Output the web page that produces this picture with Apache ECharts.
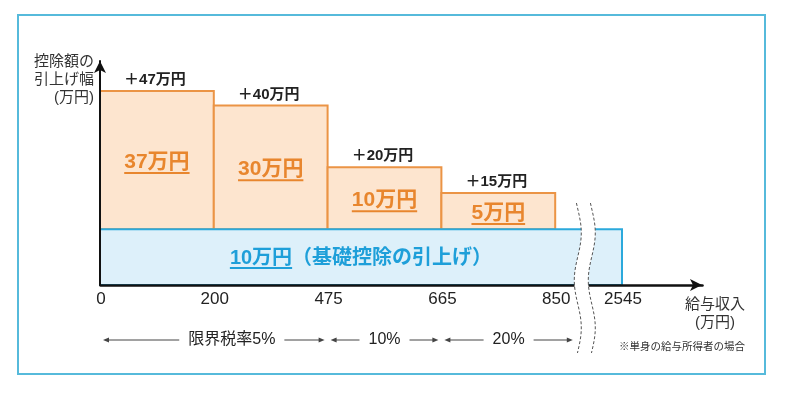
<!DOCTYPE html>
<html><head><meta charset="utf-8">
<script src="https://cdn.jsdelivr.net/npm/echarts@6/dist/echarts.min.js"></script>
<style>html,body{margin:0;padding:0;background:#fff}#c{width:800px;height:395px}</style>
</head><body><div id="c"></div>
<script>
// ---- data ----
const incomeTicks = ['0', '200', '475', '665', '850', '2545'];   // 給与収入 (万円)
const baseRaise = 10;                                             // 基礎控除の引上げ (万円)
const extraRaise = [37, 30, 10, 5];                                // 上乗せ (万円)
const totalRaise = [47, 40, 20, 15];                               // 控除額の引上げ幅 (万円)
const baseLabel = '（基礎控除の引上げ）';
const rateLabels = ['限界税率5%', '10%', '20%'];
const rateFrom = ['0', '475', '665'];
const rateTo = ['475', '665', '2545'];
const yAxisName = '控除額の\n引上げ幅\n(万円)';
const xAxisName = '給与収入\n(万円)';
const footnote = '※単身の給与所得者の場合';

// ---- axis configuration ----
const Y_MIN = 5.352, Y_MAX = 65.8;          // log scale extent
const X_MAX = 5.703;
const BREAK_START = 4.26, BREAK_END = 4.673; // axis break between 850 and 2545
const FONT = '"Liberation Sans", "Noto Sans CJK JP", sans-serif';
const ORANGE = '#E8862E', ORANGE_LINE = '#EB9445', ORANGE_FILL = '#FDE5CF';
const CYAN = '#1E9FD9', CYAN_LINE = '#2BA9DC', CYAN_FILL = '#DDF0FA';

const idx = t => incomeTicks.indexOf(t);
const mctx = document.createElement('canvas').getContext('2d');
function tw(text, size, weight) { mctx.font = (weight || 'normal') + ' ' + size + 'px ' + FONT; return mctx.measureText(text).width; }
function txt(x, y, text, size, weight, fill, align, valign) {
  return { type: 'text', x: x, y: y, style: { text: text, fill: fill, fontSize: size, fontWeight: weight, fontFamily: FONT,
    align: align || 'center', textAlign: align || 'center', verticalAlign: valign || 'middle', textVerticalAlign: valign || 'middle' } };
}

const chart = echarts.init(document.getElementById('c'), null, { renderer: 'canvas' });

const raiseData = extraRaise.map((e, i) => [i, i + 1, baseRaise, baseRaise + e]);
const baseData = [[idx('0'), idx('2545'), Y_MIN, baseRaise]];
const rateData = rateLabels.map((l, i) => [idx(rateFrom[i]), Math.min(idx(rateTo[i]), BREAK_START), Y_MIN]);
const tickData = incomeTicks.map((t, i) => [i, Y_MIN]);

chart.setOption({
  backgroundColor: '#fff',
  animation: false,
  grid: { left: 100, right: 98, top: 61, bottom: 110, containLabel: false, outerBoundsMode: 'none' },
  xAxis: {
    type: 'value', min: 0, max: X_MAX, interval: 1, z: 3,
    breaks: [{ start: BREAK_START, end: BREAK_END, gap: 0 }],
    breakArea: { show: false, itemStyle: { opacity: 0 }, zigzagAmplitude: 0 },
    axisLine: { show: true, onZero: false, symbol: ['none', 'arrow'], symbolSize: [9, 12], lineStyle: { color: '#111', width: 2.5 } },
    axisTick: { show: false }, splitLine: { show: false }, axisLabel: { show: false },
    name: xAxisName, nameLocation: 'end', nameGap: 13,
    nameTextStyle: { fontSize: 15, color: '#333', fontFamily: FONT, align: 'center', verticalAlign: 'top', lineHeight: 18, padding: [11, 0, 0, 0] }
  },
  yAxis: {
    type: 'log', min: Y_MIN, max: Y_MAX, z: 3,
    axisLine: { show: true, onZero: false, symbol: ['none', 'arrow'], symbolSize: [9, 12], lineStyle: { color: '#111', width: 2 } },
    axisTick: { show: false }, splitLine: { show: false }, axisLabel: { show: false },
    name: yAxisName, nameLocation: 'end', nameGap: 8,
    nameTextStyle: { fontSize: 15, color: '#333', fontFamily: FONT, align: 'right', verticalAlign: 'top', lineHeight: 18, padding: [0, 6, 0, 0] }
  },
  graphic: [
    { type: 'rect', shape: { x: 18, y: 15, width: 747, height: 359 }, style: { fill: 'none', stroke: '#56BADB', lineWidth: 2 }, z: 0 },
    { type: 'text', right: 55, top: 342, style: { text: footnote, fill: '#333', fontSize: 10.5, fontFamily: FONT } }
  ],
  series: [
    {
      type: 'custom', name: 'raise', z: 2, data: raiseData, encode: { x: [0, 1], y: [2, 3] },
      renderItem: (params, api) => {
        const i = params.dataIndex;
        const p0 = api.coord([api.value(0), api.value(2)]);
        const p1 = api.coord([api.value(1), api.value(3)]);
        const r = { x: p0[0], y: p1[1], width: p1[0] - p0[0], height: p0[1] - p1[1] };
        const cx = r.x + r.width / 2, cy = r.y + r.height / 2;
        const inner = extraRaise[i] + '万円';
        const w = tw(inner, 21, 'bold');
        return { type: 'group', children: [
          { type: 'rect', shape: r, style: { fill: ORANGE_FILL, stroke: ORANGE_LINE, lineWidth: 2 } },
          txt(cx, cy + 2, inner, 21, 'bold', ORANGE),
          { type: 'line', shape: { x1: cx - w / 2, y1: cy + 13, x2: cx + w / 2, y2: cy + 13 }, style: { stroke: ORANGE, lineWidth: 2 } },
          txt(cx - 2, r.y - 11, '＋' + totalRaise[i] + '万円', 15, 'bold', '#222')
        ] };
      }
    },
    {
      type: 'custom', name: 'base', z: 2.5, data: baseData, encode: { x: [0, 1], y: [2, 3] },
      renderItem: (params, api) => {
        const p0 = api.coord([api.value(0), api.value(2)]);
        const p1 = api.coord([api.value(1), api.value(3)]);
        const r = { x: p0[0], y: p1[1], width: p1[0] - p0[0], height: p0[1] - p1[1] };
        const cx = r.x + r.width / 2, cy = r.y + r.height / 2;
        const first = baseRaise + '万円';
        const full = first + baseLabel;
        const wf = tw(first, 20, 'bold'), wa = tw(full, 20, 'bold');
        const x0 = cx - wa / 2;
        return { type: 'group', children: [
          { type: 'rect', shape: r, style: { fill: CYAN_FILL, stroke: CYAN_LINE, lineWidth: 2 } },
          txt(x0, cy + 1, full, 20, 'bold', CYAN, 'left'),
          { type: 'line', shape: { x1: x0, y1: cy + 11, x2: x0 + wf, y2: cy + 11 }, style: { stroke: CYAN, lineWidth: 2 } }
        ] };
      }
    },
    {
      type: 'custom', name: 'ticks', z: 2, data: tickData, encode: { x: 0, y: 1 },
      renderItem: (params, api) => {
        const p = api.coord([api.value(0), api.value(1)]);
        return txt(p[0] + 1, p[1] + 14, incomeTicks[params.dataIndex], 17, 'normal', '#222');
      }
    },
    {
      type: 'custom', name: 'rates', z: 2, data: rateData, encode: { x: [0, 1], y: 2 },
      renderItem: (params, api) => {
        const i = params.dataIndex;
        const p0 = api.coord([api.value(0), api.value(2)]);
        const p1 = api.coord([api.value(1), api.value(2)]);
        const y = p0[1] + 55;
        const last = i === rateLabels.length - 1;
        const a = p0[0] + 3, b = p1[0] - (last ? 12 : 3);
        const cx = (a + b) / 2 + (i === 0 ? 18 : 0);
        const w = tw(rateLabels[i], 16, 'normal');
        const l1 = cx - w / 2 - 9, r1 = cx + w / 2 + 9;
        const col = '#444';
        return { type: 'group', children: [
          txt(cx, y, rateLabels[i], 16, 'normal', '#222'),
          { type: 'line', shape: { x1: a + 4, y1: y, x2: l1, y2: y }, style: { stroke: col, lineWidth: 1 } },
          { type: 'polygon', shape: { points: [[a, y], [a + 6, y - 2.5], [a + 6, y + 2.5]] }, style: { fill: col } },
          { type: 'line', shape: { x1: r1, y1: y, x2: b - 4, y2: y }, style: { stroke: col, lineWidth: 1 } },
          { type: 'polygon', shape: { points: [[b, y], [b - 6, y - 2.5], [b - 6, y + 2.5]] }, style: { fill: col } }
        ] };
      }
    },
    {
      type: 'custom', name: 'break', z: 6, data: [[BREAK_START, Y_MIN]], encode: { x: 0, y: 1 },
      renderItem: (params, api) => {
        const p = api.coord([api.value(0), api.value(1)]);
        const top = p[1] - 82, bottom = p[1] + 68, half = 7;
        const left = [], right = [];
        for (let y = top; y <= bottom + 0.01; y += 2) {
          const dx = 3.5 * Math.sin((y - top) / 95 * 2 * Math.PI - 0.4);
          left.push([p[0] - half + dx, y]);
          right.push([p[0] + half + dx, y]);
        }
        const poly = left.concat(right.slice().reverse());
        return { type: 'group', children: [
          { type: 'polygon', shape: { points: poly }, style: { fill: '#fff' } },
          { type: 'polyline', shape: { points: left }, style: { stroke: '#555', lineWidth: 1, lineDash: [3, 2], fill: null } },
          { type: 'polyline', shape: { points: right }, style: { stroke: '#555', lineWidth: 1, lineDash: [3, 2], fill: null } }
        ] };
      }
    }
  ]
});
</script></body></html>
